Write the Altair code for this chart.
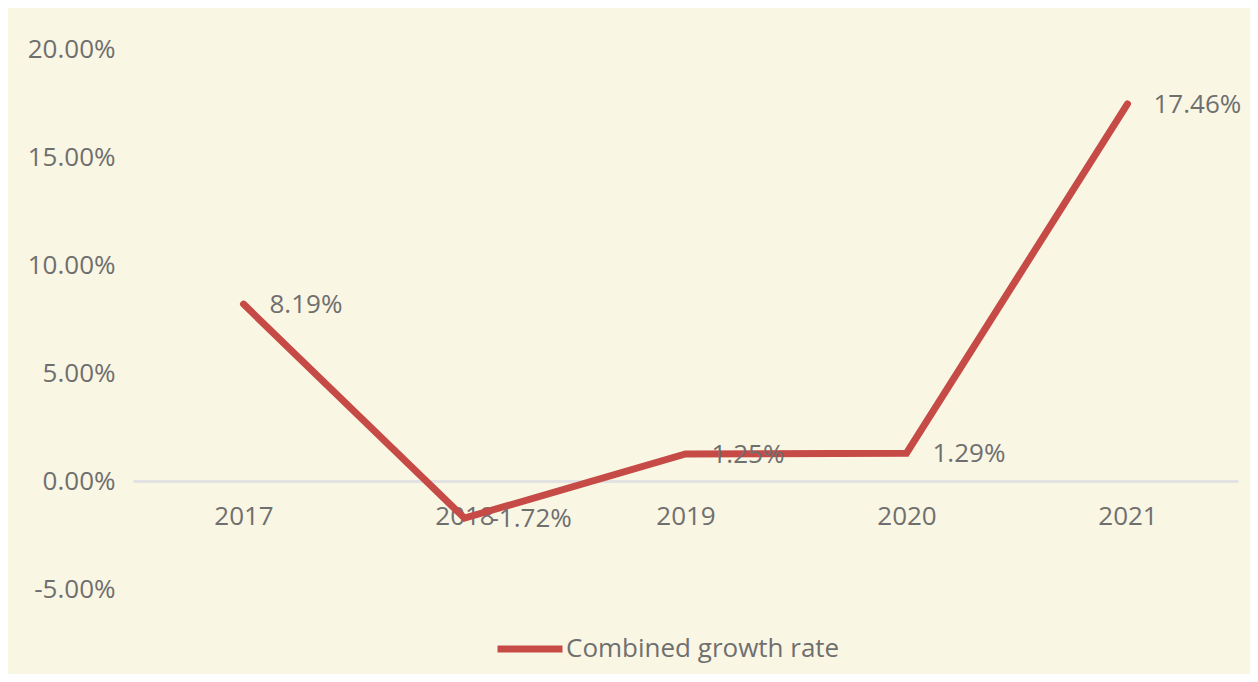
import altair as alt
import pandas as pd

# ---- data ----
years = ["2017", "2018", "2019", "2020", "2021"]
growth = [0.0819, -0.0172, 0.0125, 0.0129, 0.1746]
series_name = "Combined growth rate"
y_ticks = [-0.05, 0.0, 0.05, 0.10, 0.15, 0.20]
y_domain = [-0.05, 0.20]

df = pd.DataFrame({"year": years, "growth": growth, "series": [series_name] * len(years)})

FONT = "Open Sans"
TEXT = "#6F6F6F"
RED = "#C64A46"
BG = "#FAF6E4"
FS = 26

x_enc = alt.X(
    "year:O",
    sort=years,
    scale=alt.Scale(type="point", padding=0.5),
    axis=alt.Axis(
        title=None, labelAngle=0, offset=-108, domainColor="#E2E2E2", domainWidth=3,
        ticks=False, tickSize=0, labelPadding=35, labelBaseline="middle",
        labelFont=FONT, labelFontSize=FS, labelColor=TEXT, grid=False,
    ),
)
y_enc = alt.Y(
    "growth:Q",
    scale=alt.Scale(domain=y_domain, nice=False, zero=False),
    axis=alt.Axis(
        values=y_ticks, format=".2%", title=None, grid=False, domain=False,
        ticks=False, tickSize=0, labelPadding=18, labelFont=FONT,
        labelFontSize=FS, labelColor=TEXT,
        labelExpr="replace(datum.label, '\u2212', '-')",
    ),
)

line = alt.Chart(df).mark_line(strokeWidth=7, strokeCap="round", strokeJoin="miter").encode(
    x=x_enc,
    y=y_enc,
    color=alt.Color(
        "series:N",
        scale=alt.Scale(domain=[series_name], range=[RED]),
        legend=alt.Legend(
            title=None, orient="none", legendX=361, legendY=564, direction="horizontal",
            symbolType="stroke", symbolSize=4225, symbolStrokeWidth=7,
            labelFont=FONT, labelFontSize=FS, labelColor=TEXT, labelOffset=0,
            labelLimit=1000, padding=0,
        ),
    ),
)

labels = alt.Chart(df).transform_calculate(
    lbl="replace(format(datum.growth, '.2%'), '\u2212', '-')"
).mark_text(
    align="left", baseline="middle", dx=26, dy=1, font=FONT, fontSize=FS, color=TEXT
).encode(
    x=alt.X("year:O", sort=years),
    y=alt.Y("growth:Q"),
    text=alt.Text("lbl:N"),
)

chart = alt.layer(line, labels).properties(
    width=1105,
    height=540,
    padding={"left": 125, "top": 41, "right": 12, "bottom": 85},
    autosize=alt.AutoSizeParams(type="none"),
).configure(background=BG).configure_view(stroke=None)

chart.save("out.html", embed_options={"renderer": "svg", "actions": False})
